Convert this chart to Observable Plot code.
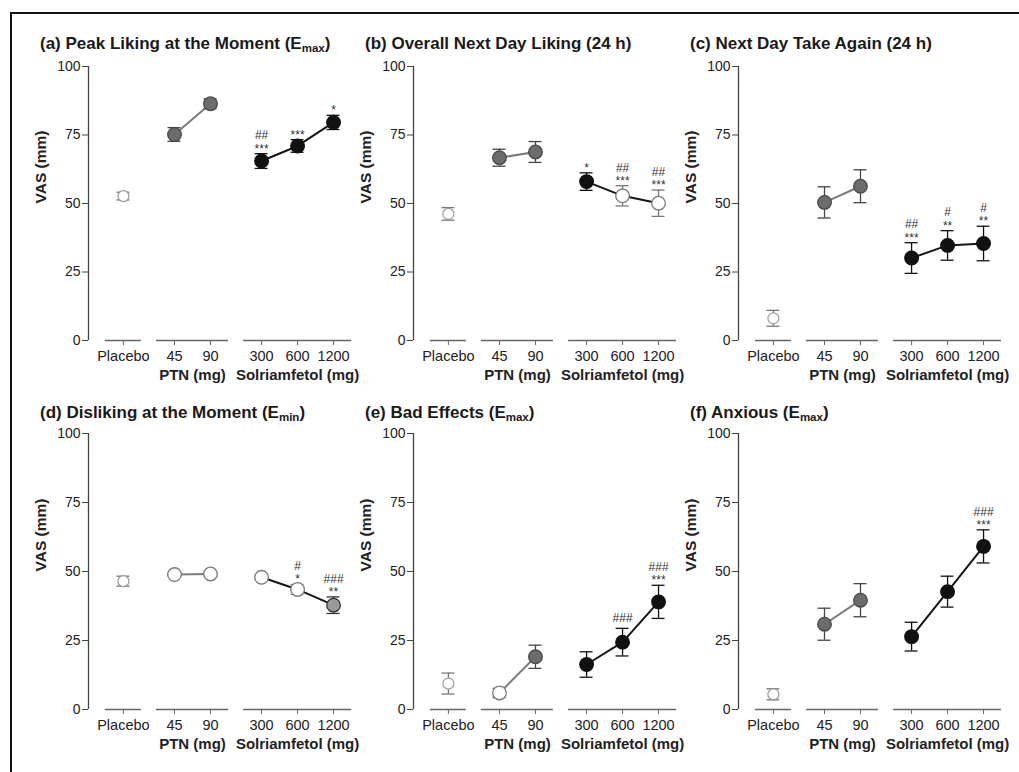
<!DOCTYPE html>
<html><head><meta charset="utf-8">
<script src="https://cdn.jsdelivr.net/npm/d3@7"></script>
<script src="https://cdn.jsdelivr.net/npm/@observablehq/plot@0.6"></script>
<style>
body{margin:0;background:#fff;font-family:"Liberation Sans",Arial,sans-serif;}
#frame{position:absolute;left:10px;top:12px;width:1009px;height:760px;border-top:2px solid #111;border-left:2px solid #111;box-sizing:border-box;}
.title{position:absolute;font-weight:bold;font-size:17px;color:#1a1a1a;white-space:nowrap;line-height:20px;}
.title sub{font-size:11.5px;vertical-align:-3px;line-height:0;}
.panel{position:absolute;}
</style></head><body>
<div id="frame"></div>
<div id="root"></div>
<script>
// ---- categories ----
const doses = ["Placebo", "45", "90", "300", "600", "1200"];
const doseGroup = ["Placebo", "PTN", "PTN", "Solriamfetol", "Solriamfetol", "Solriamfetol"];
const groupNames = ["Placebo", "PTN", "Solriamfetol"];
const groupLabels = ["", "PTN (mg)", "Solriamfetol (mg)"];
const yTicks = [0, 25, 50, 75, 100];
const yLabel = "VAS (mm)";

// ---- titles ----
const titleMain = ["(a) Peak Liking at the Moment (E", "(b) Overall Next Day Liking (24 h)", "(c) Next Day Take Again (24 h)",
                   "(d) Disliking at the Moment (E", "(e) Bad Effects (E", "(f) Anxious (E"];
const titleSub = ["max", "", "", "min", "max", "max"];
const titleTail = [")", "", "", ")", ")", ")"];

// ---- values (mean, SEM), marker fill, significance ----
const meanA = [52.7, 75.2, 86.4, 65.5, 71.0, 79.6];
const semA  = [1.4, 2.5, 1.8, 2.7, 2.3, 2.6];
const fillA = ["open", "gray", "gray", "black", "black", "black"];
const starA = ["", "", "", "***", "***", "*"];
const hashA = ["", "", "", "##", "", ""];

const meanB = [46.2, 66.7, 68.8, 58.0, 52.8, 50.1];
const semB  = [2.3, 3.1, 3.8, 3.2, 3.7, 4.8];
const fillB = ["open", "gray", "gray", "black", "open", "open"];
const starB = ["", "", "", "*", "***", "***"];
const hashB = ["", "", "", "", "##", "##"];

const meanC = [8.1, 50.4, 56.3, 30.1, 34.7, 35.4];
const semC  = [2.9, 5.7, 6.0, 5.6, 5.4, 6.3];
const fillC = ["open", "gray", "gray", "black", "black", "black"];
const starC = ["", "", "", "***", "**", "**"];
const hashC = ["", "", "", "##", "#", "#"];

const meanD = [46.5, 48.9, 49.1, 47.9, 43.5, 37.8];
const semD  = [1.8, 0.5, 0.5, 0.5, 1.8, 3.0];
const fillD = ["open", "open", "open", "open", "open", "light"];
const starD = ["", "", "", "", "*", "**"];
const hashD = ["", "", "", "", "#", "###"];

const meanE = [9.4, 6.0, 19.1, 16.3, 24.4, 39.0];
const semE  = [3.8, 1.7, 4.2, 4.6, 5.0, 6.0];
const fillE = ["open", "open", "gray", "black", "black", "black"];
const starE = ["", "", "", "", "", "***"];
const hashE = ["", "", "", "", "###", "###"];

const meanF = [5.5, 30.9, 39.6, 26.4, 42.7, 59.1];
const semF  = [2.0, 5.8, 6.0, 5.2, 5.6, 6.0];
const fillF = ["open", "gray", "gray", "black", "black", "black"];
const starF = ["", "", "", "", "", "***"];
const hashF = ["", "", "", "", "", "###"];

const panels = [
  {mean: meanA, sem: semA, fill: fillA, star: starA, hash: hashA},
  {mean: meanB, sem: semB, fill: fillB, star: starB, hash: hashB},
  {mean: meanC, sem: semC, fill: fillC, star: starC, hash: hashC},
  {mean: meanD, sem: semD, fill: fillD, star: starD, hash: hashD},
  {mean: meanE, sem: semE, fill: fillE, star: starE, hash: hashE},
  {mean: meanF, sem: semF, fill: fillF, star: starF, hash: hashF}
];

// ---- styles / layout ----
const GAP = 0.42, CAP = 0.18;
const X_DOMAIN = [-0.97, 6.2];
const fillColor = {open: "#ffffff", gray: "#6c6c6c", light: "#9a9a9a", black: "#111111"};
const strokeColor = {open: "#7a7a7a", gray: "#4a4a4a", light: "#333333", black: "#111111"};
const errColor = {open: "#777777", gray: "#444444", light: "#333333", black: "#111111"};
const lineColor = {PTN: "#7a7a7a", Solriamfetol: "#151515"};
const FONT = '"Liberation Sans", Arial, sans-serif';

const xPos = doses.map((d, i) => i + GAP * groupNames.indexOf(doseGroup[i]));
const labelByPos = new Map(xPos.map((p, i) => [p, doses[i]]));

const root = document.getElementById("root");

panels.forEach((p, k) => {
  const col = k % 3, row = Math.floor(k / 3);
  const rows = doses.map((d, i) => ({
    dose: d, group: doseGroup[i], x: xPos[i], mean: p.mean[i],
    lo: p.mean[i] - p.sem[i], hi: p.mean[i] + p.sem[i],
    fill: p.fill[i], star: p.star[i], hash: p.hash[i]
  }));
  const segs = groupNames.map((g, gi) => {
    const xs = rows.filter(r => r.group === g).map(r => r.x);
    return {group: g, label: groupLabels[gi], x1: d3.min(xs) - 0.5, x2: d3.max(xs) + 0.5, xc: (d3.min(xs) + d3.max(xs)) / 2};
  });
  const height = row === 0 ? 329 : 331;
  const chart = Plot.plot({
    width: 326, height,
    marginLeft: 68, marginRight: 0, marginTop: 10, marginBottom: 45,
    style: {overflow: "visible", background: "transparent", fontFamily: FONT, color: "#222"},
    x: {domain: X_DOMAIN, axis: null},
    y: {domain: [yTicks[0], yTicks[yTicks.length - 1]], axis: null},
    color: {type: "identity"},
    marks: [
      Plot.ruleX([X_DOMAIN[0]], {y1: yTicks[0], y2: yTicks[yTicks.length - 1], stroke: "#444", strokeWidth: 1.3}),
      Plot.ruleY(segs, {x1: "x1", x2: "x2", y: yTicks[0], stroke: "#666", strokeWidth: 1.3}),
      Plot.axisX({ticks: xPos, tickFormat: d => labelByPos.get(d), tickSize: 5, tickPadding: 5, fontSize: 14.5, stroke: "#666"}),
      Plot.axisY({ticks: yTicks, tickSize: 6, tickPadding: 2, fontSize: 14, stroke: "#444", label: null}),
      Plot.text(segs.filter(s => s.label), {x: "xc", y: yTicks[0], text: "label", dy: 35, fontWeight: "bold", fontSize: 15, fill: "#222"}),
      Plot.text([yLabel], {text: d => d, frameAnchor: "left", rotate: -90, dx: -47, fontWeight: "bold", fontSize: 15.5, fill: "#222"}),
      // error bars
      Plot.ruleX(rows, {x: "x", y1: "lo", y2: "hi", stroke: d => errColor[d.fill], strokeWidth: 1.3}),
      Plot.ruleY(rows, {y: "hi", x1: d => d.x - CAP, x2: d => d.x + CAP, stroke: d => errColor[d.fill], strokeWidth: 1.3}),
      Plot.ruleY(rows, {y: "lo", x1: d => d.x - CAP, x2: d => d.x + CAP, stroke: d => errColor[d.fill], strokeWidth: 1.3}),
      // connecting lines
      Plot.line(rows.filter(d => d.group !== "Placebo"), {x: "x", y: "mean", z: "group", stroke: d => lineColor[d.group], strokeWidth: 2}),
      // markers
      Plot.dot(rows.filter(d => d.group === "Placebo"), {x: "x", y: "mean", r: 5.5, fill: d => fillColor[d.fill], stroke: "#9a9a9a", strokeWidth: 1.2}),
      Plot.dot(rows.filter(d => d.group !== "Placebo"), {x: "x", y: "mean", r: 6.8, fill: d => fillColor[d.fill], stroke: d => strokeColor[d.fill], strokeWidth: 1.3}),
      // significance
      Plot.text(rows.filter(d => d.star && d.hash), {x: "x", y: "hi", text: d => d.hash + "\n" + d.star, lineAnchor: "bottom", lineHeight: 1.1, dy: -1, fontSize: 12, fill: "#333"}),
      Plot.text(rows.filter(d => d.star && !d.hash), {x: "x", y: "hi", text: "star", lineAnchor: "bottom", dy: -1, fontSize: 12, fill: "#333"}),
      Plot.text(rows.filter(d => !d.star && d.hash), {x: "x", y: "hi", text: "hash", lineAnchor: "bottom", dy: -6, fontSize: 12, fill: "#333"})
    ]
  });
  const div = document.createElement("div");
  div.className = "panel";
  div.style.left = (20 + 325 * col) + "px";
  div.style.top = (row === 0 ? 56 : 423) + "px";
  div.appendChild(chart);
  root.appendChild(div);

  const t = document.createElement("div");
  t.className = "title";
  t.style.left = (40 + 325 * col) + "px";
  t.style.top = (row === 0 ? 34 : 403) + "px";
  t.textContent = titleMain[k];
  if (titleSub[k]) {
    const s = document.createElement("sub");
    s.textContent = titleSub[k];
    t.appendChild(s);
    t.appendChild(document.createTextNode(titleTail[k]));
  }
  root.appendChild(t);
});
</script></body></html>
